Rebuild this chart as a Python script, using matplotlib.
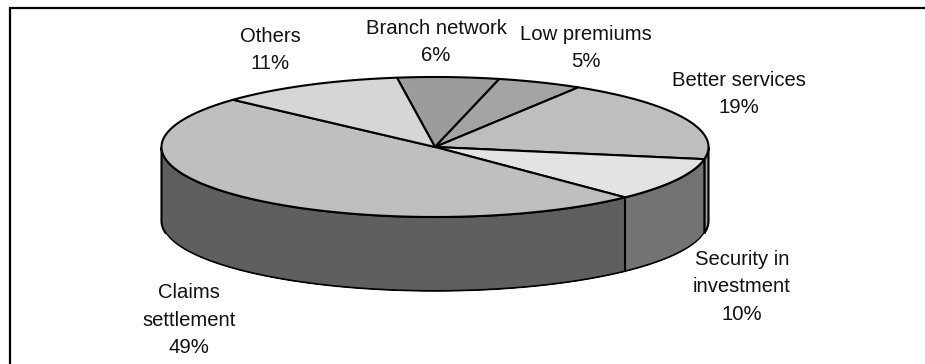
import numpy as np
import matplotlib
matplotlib.use("Agg")
import matplotlib.pyplot as plt
from matplotlib.patches import Polygon

categories = ["Branch network", "Low premiums", "Better services",
              "Security in\ninvestment", "Claims\nsettlement", "Others"]
shares = [6, 5, 19, 10, 49, 11]

top_colors = ["#9c9c9c", "#a4a4a4", "#bebebe", "#e3e3e3", "#bfbfbf", "#d6d6d6"]
side_colors = ["#4e4e4e", "#525252", "#9a9a9a", "#737373", "#5f5f5f", "#6b6b6b"]

W, H = 925, 364
CX, CY = 435, 147   # pie centre
RX, RY = 273.5, 70  # radii of the ellipse
DEPTH = 74
START = 98          # angle of the first slice edge, going clockwise

label_pos = [(436, 42), (586, 48), (739, 94), (742, 287), (189, 320), (270, 50)]


def rim(a0, a1):
    t = np.radians(np.linspace(a0, a1, max(int(abs(a1 - a0) * 2), 2)))
    # y axis points down, so flip to keep positive angles at the back
    return CX + RX * np.cos(t), CY - RY * np.sin(t)


fig = plt.figure(figsize=(W / 100, H / 100), dpi=100)
ax = fig.add_axes([0, 0, 1, 1])
ax.set_xlim(0, W)
ax.set_ylim(H, 0)
ax.axis("off")

# box around the chart, only top and left are visible
ax.plot([10, 10, W], [H, 7.5, 7.5], color="black", lw=1.6, solid_joinstyle="miter", zorder=1)

edges = START - np.cumsum([0] + shares) * 3.6

# walls of the cylinder, only the part facing the viewer
for i in range(len(shares)):
    f0, f1 = max(edges[i + 1], -180), min(edges[i], 0)
    if f1 <= f0:
        continue
    x, y = rim(f0, f1)
    pts = np.r_[np.c_[x, y], np.c_[x[::-1], y[::-1] + DEPTH]]
    ax.add_patch(Polygon(pts, closed=True, fc=side_colors[i], ec="black", lw=1.5, zorder=2))

# white glint under the lower rim
x, y = rim(-170, -10)
ax.plot(x, y + DEPTH + 1.5, color="white", lw=1, zorder=2.5)

# top face slices
for i in range(len(shares)):
    x, y = rim(edges[i], edges[i + 1])
    pts = np.r_[[[CX, CY]], np.c_[x, y]]
    ax.add_patch(Polygon(pts, closed=True, fc=top_colors[i], ec="black", lw=1.5,
                         joinstyle="round", zorder=3))

for name, val, (lx, ly) in zip(categories, shares, label_pos):
    ax.text(lx, ly, f"{name}\n{val}%", ha="center", va="center", fontsize=14.6,
            family="Liberation Sans", color="#111111", linespacing=1.55, zorder=4)

fig.savefig("out.png", dpi=100)
